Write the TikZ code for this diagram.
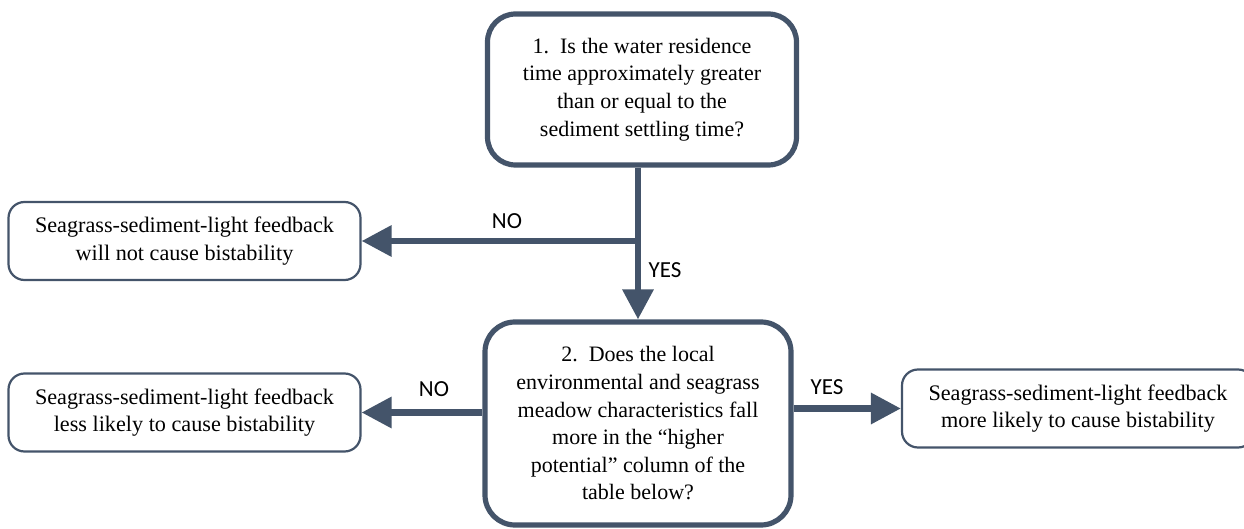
\documentclass[tikz,border=0pt]{standalone}
\usepackage{fontspec}
\setmainfont{Liberation Serif}
\newfontfamily\lblfont{Carlito}
\usetikzlibrary{arrows.meta}
\definecolor{slate}{HTML}{44546A}
\begin{document}
\begin{tikzpicture}[x=0.5pt,y=-0.5pt,
  qbox/.style={draw=slate,line width=2.6pt,rounded corners=14pt,fill=white,
    align=center,inner sep=0pt,font=\fontsize{11}{13.8}\selectfont},
  ansbox/.style={draw=slate,line width=1.1pt,rounded corners=8pt,fill=white,
    align=center,inner sep=0pt,minimum width=176pt,minimum height=39pt,
    font=\fontsize{11.1}{13.8}\selectfont},
  arr/.style={draw=slate,line width=3.2pt,-{Triangle[length=15pt,width=15pt]}},
  lbl/.style={font=\lblfont\fontsize{11.5}{13}\selectfont,inner sep=0pt}]
  \useasboundingbox (0,0) rectangle (1244,529);
  \node[qbox,minimum width=154.5pt,minimum height=75.5pt] (q1) at (642,89.5)
    {1.\enspace Is the water residence\\ time approximately greater\\
    than or equal to the\\ sediment settling time?};
  \node[qbox,minimum width=153pt,minimum height=101.5pt,rounded corners=15pt] (q2) at (638,423.5)
    {2.\enspace Does the local\\ environmental and seagrass\\
    meadow characteristics fall\\ more in the ``higher\\
    potential'' column of the\\ table below?};
  \node[ansbox] (nobist) at (184.5,241)
    {Seagrass-sediment-light feedback\\ will not cause bistability};
  \node[ansbox] (lesslikely) at (184.5,412.5)
    {Seagrass-sediment-light feedback\\ less likely to cause bistability};
  \node[ansbox] (morelikely) at (1078,408.5)
    {Seagrass-sediment-light feedback\\ more likely to cause bistability};
  \draw[arr] (q1.south -| q2.north) -- (q2.north);
  \draw[arr] (q2.north |- nobist.east) -- (nobist.east);
  \draw[arr] (q2.west |- lesslikely.east) -- (lesslikely.east);
  \draw[arr] (q2.east |- morelikely.west) -- (morelikely.west);
  \node[lbl] (no1) at (507,221) {NO};
  \node[lbl] (yes1) at (665,270) {YES};
  \node[lbl] (no2) at (434,389) {NO};
  \node[lbl] (yes2) at (827,387) {YES};
\end{tikzpicture}
\end{document}
